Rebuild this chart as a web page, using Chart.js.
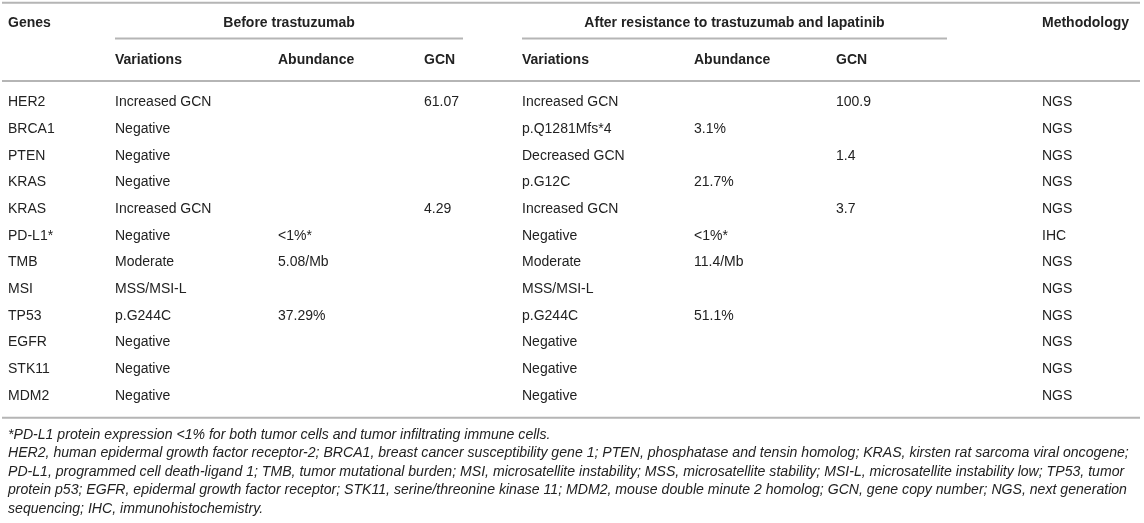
<!DOCTYPE html>
<html>
<head>
<meta charset="utf-8">
<script src="https://cdn.jsdelivr.net/npm/chart.js@4/dist/chart.umd.min.js"></script>
<style>
  html, body { margin: 0; padding: 0; background: #fff; }
  #wrap { width: 1144px; height: 523px; }
</style>
</head>
<body>
<div id="wrap"><canvas id="table"></canvas></div>
<script>
const genes = ['HER2', 'BRCA1', 'PTEN', 'KRAS', 'KRAS', 'PD-L1*', 'TMB', 'MSI', 'TP53', 'EGFR', 'STK11', 'MDM2'];
const beforeVariations = ['Increased GCN', 'Negative', 'Negative', 'Negative', 'Increased GCN', 'Negative', 'Moderate', 'MSS/MSI-L', 'p.G244C', 'Negative', 'Negative', 'Negative'];
const beforeAbundance = ['', '', '', '', '', '<1%*', '5.08/Mb', '', '37.29%', '', '', ''];
const beforeGCN = ['61.07', '', '', '', '4.29', '', '', '', '', '', '', ''];
const afterVariations = ['Increased GCN', 'p.Q1281Mfs*4', 'Decreased GCN', 'p.G12C', 'Increased GCN', 'Negative', 'Moderate', 'MSS/MSI-L', 'p.G244C', 'Negative', 'Negative', 'Negative'];
const afterAbundance = ['', '3.1%', '', '21.7%', '', '<1%*', '11.4/Mb', '', '51.1%', '', '', ''];
const afterGCN = ['100.9', '', '1.4', '', '3.7', '', '', '', '', '', '', ''];
const methodology = ['NGS', 'NGS', 'NGS', 'NGS', 'NGS', 'IHC', 'NGS', 'NGS', 'NGS', 'NGS', 'NGS', 'NGS'];

const groupHeaders = ['Before trastuzumab', 'After resistance to trastuzumab and lapatinib'];
const subHeaders = ['Variations', 'Abundance', 'GCN', 'Variations', 'Abundance', 'GCN'];
const footnotes = [
  '*PD-L1 protein expression <1% for both tumor cells and tumor infiltrating immune cells.',
  'HER2, human epidermal growth factor receptor-2; BRCA1, breast cancer susceptibility gene 1; PTEN, phosphatase and tensin homolog; KRAS, kirsten rat sarcoma viral oncogene;',
  'PD-L1, programmed cell death-ligand 1; TMB, tumor mutational burden; MSI, microsatellite instability; MSS, microsatellite stability; MSI-L, microsatellite instability low; TP53, tumor',
  'protein p53; EGFR, epidermal growth factor receptor; STK11, serine/threonine kinase 11; MDM2, mouse double minute 2 homolog; GCN, gene copy number; NGS, next generation',
  'sequencing; IHC, immunohistochemistry.',
];

const columns = [genes, beforeVariations, beforeAbundance, beforeGCN, afterVariations, afterAbundance, afterGCN, methodology];

// layout, in x-scale units (left edges of columns) and y-scale units (rows)
const colX = [8, 115, 278, 424, 522, 694, 836, 1042];
const groupSpan = [[115, 463], [522, 947]];
const TEXT = '#222';
const RULE = '#b5b5b5';
const FONT = '"Liberation Sans", Arial, Helvetica, sans-serif';

const tablePlugin = {
  id: 'tablePlugin',
  afterDraw(chart) {
    const { ctx, scales: { x, y } } = chart;
    const px = v => x.getPixelForValue(v);
    const py = v => y.getPixelForValue(v);

    const rule = (x0, x1, row) => {
      ctx.save();
      ctx.strokeStyle = RULE;
      ctx.lineWidth = 2;
      ctx.beginPath();
      ctx.moveTo(px(x0), py(row));
      ctx.lineTo(px(x1), py(row));
      ctx.stroke();
      ctx.restore();
    };
    const text = (str, xv, row, font, align) => {
      ctx.save();
      ctx.fillStyle = TEXT;
      ctx.font = font;
      ctx.textAlign = align || 'left';
      ctx.textBaseline = 'middle';
      ctx.fillText(str, px(xv), py(row));
      ctx.restore();
    };

    const bold = 'bold 14px ' + FONT;
    const plain = '14px ' + FONT;
    const italic = 'italic 14.1px ' + FONT;

    // rules
    rule(2, 1140, -3.74);
    groupSpan.forEach(s => rule(s[0], s[1], -2.4));
    rule(2, 1140, -0.8);
    rule(2, 1140, 11.82);

    // headers
    text('Genes', colX[0], -2.98, bold);
    text('Methodology', colX[7], -2.98, bold);
    groupHeaders.forEach((h, i) => text(h, (groupSpan[i][0] + groupSpan[i][1]) / 2, -2.98, bold, 'center'));
    subHeaders.forEach((h, i) => text(h, colX[i + 1], -1.6, bold));

    // body cells
    columns.forEach((col, c) => {
      col.forEach((v, r) => { if (v) text(v, colX[c], r, plain); });
    });

    // footnotes
    footnotes.forEach((f, i) => text(f, colX[0], 12.47 + i * 0.69, italic));
  }
};

new Chart(document.getElementById('table'), {
  type: 'scatter',
  data: {
    datasets: columns.map((col, c) => ({
      data: col.map((v, r) => ({ x: colX[c], y: r })),
      pointRadius: 0,
      showLine: false,
    })),
  },
  options: {
    responsive: true,
    maintainAspectRatio: false,
    animation: false,
    layout: { padding: 0 },
    plugins: {
      legend: { display: false },
      tooltip: { enabled: false },
    },
    scales: {
      x: { type: 'linear', min: 0, max: 1144, display: false },
      y: { type: 'linear', min: -3.84, max: 15.77, reverse: true, display: false },
    },
  },
  plugins: [tablePlugin],
});
</script>
</body>
</html>
